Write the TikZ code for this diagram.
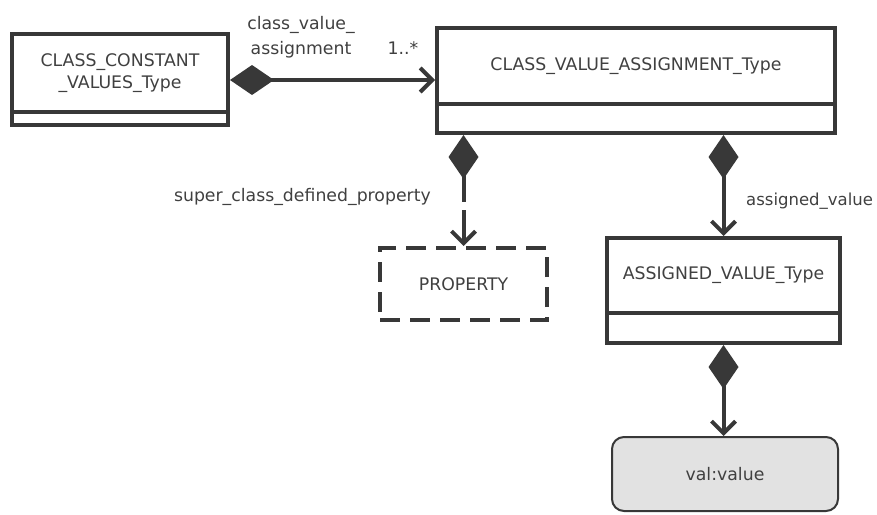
\documentclass[tikz,border=0pt]{standalone}
\usepackage{fontspec}
\setmainfont{DejaVu Sans}
\usetikzlibrary{arrows.meta}
\definecolor{ink}{HTML}{383838}
\definecolor{txt}{HTML}{404040}
\definecolor{valfill}{HTML}{E2E2E2}
\begin{document}
\begin{tikzpicture}[x=1pt,y=-1pt,
  every node/.style={font=\fontsize{17.3}{22}\selectfont, text=txt},
  box/.style={draw=ink, line width=4pt, inner sep=0pt, align=center},
  conn/.style={draw=ink, line width=4pt},
  dia/.style={{Diamond[length=44pt,width=30pt,line width=0pt]}-},
  barb/.style={-{Straight Barb[length=12pt,width=24pt,line width=4pt]}},
  diabarb/.style={{Diamond[length=44pt,width=30pt,line width=0pt]}-{Straight Barb[length=12pt,width=24pt,line width=4pt]}},
  lbl/.style={inner sep=0pt}
]
\useasboundingbox (0,0) rectangle (877,514);
% CLASS_CONSTANT_VALUES_Type
\node[box, minimum width=216pt, minimum height=78pt] (ccvU) at (120,73) {CLASS\_CONSTANT\\\_VALUES\_Type};
\node[box, minimum width=216pt, minimum height=13pt] (ccvB) at (120,118.5) {};
% CLASS_VALUE_ASSIGNMENT_Type
\node[box, minimum width=398pt, minimum height=76pt] (cvaU) at (636,66) {CLASS\_VALUE\_ASSIGNMENT\_Type};
\node[box, minimum width=398pt, minimum height=29pt] (cvaB) at (636,118.5) {};
% PROPERTY
\node[box, dash pattern=on 20pt off 10pt, minimum width=167pt, minimum height=72pt] (prop) at (463.5,284) {PROPERTY};
% ASSIGNED_VALUE_Type
\node[box, minimum width=233pt, minimum height=75pt] (avU) at (723.5,275.5) {ASSIGNED\_VALUE\_Type};
\node[box, minimum width=233pt, minimum height=30pt] (avB) at (723.5,328) {};
% val:value
\node[draw=ink, line width=2pt, fill=valfill, rounded corners=12pt, minimum width=226pt, minimum height=74pt] (val) at (725,474) {val:value};
% connectors
\draw[conn, diabarb] ([yshift=-7pt]ccvU.east) -- ([yshift=-7pt]ccvU.east -| cvaU.west);
\coordinate (g1) at (463.5,202);
\coordinate (g2) at (463.5,210);
\draw[conn, dia] (prop.north |- cvaB.south) -- (g1);
\draw[conn, barb] (g2) -- (prop.north);
\draw[conn, diabarb] (avU.north |- cvaB.south) -- (avU.north);
\draw[conn, diabarb] (avB.south) -- (avB.south |- val.north);
% labels
\node[lbl] (l1) at (301,25) {class\_value\_};
\node[lbl] (l2) at (301,50) {assignment};
\node[lbl] (l3) at (403,48) {1..*};
\node[lbl, anchor=east] (l4) at (431,197) {super\_class\_defined\_property};
\node[lbl, anchor=west, font=\fontsize{16.5}{22}\selectfont] (l5) at (746,201) {assigned\_value};
\end{tikzpicture}
\end{document}
